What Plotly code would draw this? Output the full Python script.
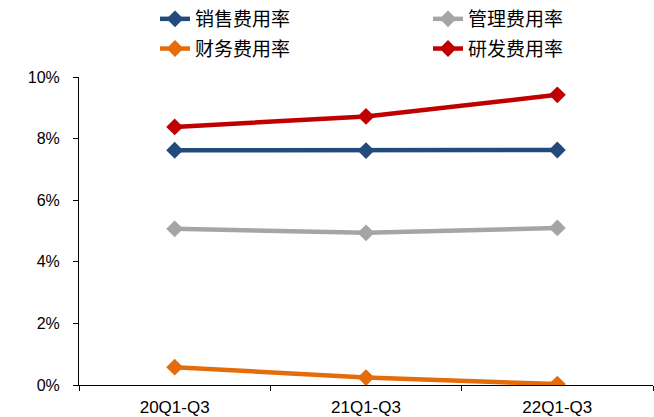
import plotly.graph_objects as go

periods = ["20Q1-Q3", "21Q1-Q3", "22Q1-Q3"]
sales_rate = [7.62, 7.61, 7.63]      # 销售费用率 (%)
admin_rate = [5.07, 4.94, 5.10]      # 管理费用率 (%)
finance_rate = [0.58, 0.24, 0.03]    # 财务费用率 (%)
rd_rate = [8.38, 8.72, 9.42]         # 研发费用率 (%)

# (name, values, colour, legend column)
series = [
    ("销售费用率", sales_rate, "#234A7C", "legend"),
    ("财务费用率", finance_rate, "#E46C0A", "legend"),
    ("管理费用率", admin_rate, "#A5A5A5", "legend2"),
    ("研发费用率", rd_rate, "#C00000", "legend2"),
]

fig = go.Figure()
for name, vals, color, leg in series:
    fig.add_trace(go.Scatter(
        x=periods, y=vals, name=name, mode="lines+markers",
        legend=leg, legendgroup=name,
        line=dict(color=color, width=4.5),
        marker=dict(symbol="diamond", size=13, color=color),
    ))

legend_style = dict(
    orientation="v", xref="container", yref="container",
    y=1.005, yanchor="top", xanchor="left",
    traceorder="grouped", tracegroupgap=2,
    font=dict(family="Noto Sans CJK SC", size=19, color="#000000"),
    bgcolor="rgba(0,0,0,0)",
)

fig.update_layout(
    width=654, height=417,
    margin=dict(l=79, r=1, t=77, b=32, autoexpand=False),
    paper_bgcolor="white", plot_bgcolor="white",
    font=dict(family="Liberation Sans, Arial, sans-serif", size=15, color="#000000"),
    showlegend=True,
    legend=dict(x=155 / 654, **legend_style),
    legend2=dict(x=428 / 654, **legend_style),
    xaxis=dict(
        type="category", range=[-0.5, 2.5],
        showline=True, linecolor="#000000", linewidth=1,
        ticks="outside", tickson="boundaries", ticklen=5, tickcolor="#000000",
        showgrid=False, zeroline=False,
        ticklabelstandoff=7,
        tickfont=dict(size=17),
    ),
    yaxis=dict(
        range=[0, 10], dtick=2, ticksuffix="%",
        showline=True, linecolor="#000000", linewidth=1,
        ticks="outside", ticklen=5, tickcolor="#000000",
        showgrid=False, zeroline=False,
        ticklabelstandoff=10,
        tickfont=dict(size=16),
    ),
)

fig.write_html("out.html")
